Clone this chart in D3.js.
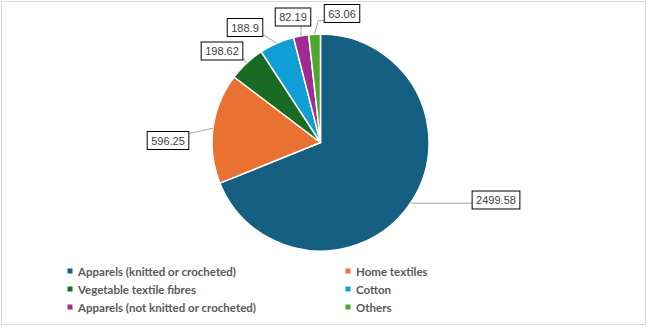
<!DOCTYPE html>
<html>
<head>
<meta charset="utf-8">
<script src="https://cdn.jsdelivr.net/npm/d3@7/dist/d3.min.js"></script>
<style>
  html, body { margin: 0; padding: 0; background: #fff; }
  svg { display: block; }
</style>
</head>
<body>
<svg id="chart" width="651" height="330"></svg>
<script>
// Export categories and their values
const categories = [
  "Apparels (knitted or crocheted)",
  "Home textiles",
  "Vegetable textile fibres",
  "Cotton",
  "Apparels (not knitted or crocheted)",
  "Others"
];
const values = [2499.58, 596.25, 198.62, 188.9, 82.19, 63.06];
const valueLabels = ["2499.58", "596.25", "198.62", "188.9", "82.19", "63.06"];
const colors = ["#156082", "#E97132", "#196B24", "#0F9ED5", "#A02B93", "#4EA72E"];

// Callout box centres (layout only)
const labelPos = [
  [496, 200], [168, 140.5], [222, 51], [245, 27.5], [293, 17], [342, 13.5]
];

const W = 651, H = 330;
const cx = 320.5, cy = 142.5, R = 108.5;

const svg = d3.select("#chart");

// chart area border
svg.append("rect")
  .attr("x", 1.5).attr("y", 1.5)
  .attr("width", 644).attr("height", 323)
  .attr("fill", "#fff").attr("stroke", "#d9d9d9").attr("stroke-width", 1);

const data = categories.map((c, i) => ({ name: c, value: values[i], label: valueLabels[i], color: colors[i], pos: labelPos[i] }));

const pie = d3.pie().value(d => d.value).sort(null);
const arcs = pie(data);
const arc = d3.arc().innerRadius(0).outerRadius(R);

const g = svg.append("g").attr("transform", `translate(${cx},${cy})`);

g.selectAll("path.slice")
  .data(arcs)
  .join("path")
  .attr("class", "slice")
  .attr("d", arc)
  .attr("fill", d => d.data.color)
  .attr("stroke", "#fff")
  .attr("stroke-width", 1.5)
  .attr("stroke-linejoin", "round");

// data labels with leader lines
const labelFont = "11px 'Liberation Sans', Arial, sans-serif";
const lg = svg.append("g");

arcs.forEach(d => {
  const mid = (d.startAngle + d.endAngle) / 2;
  const ax = cx + R * Math.sin(mid);
  const ay = cy - R * Math.cos(mid);
  const [lx, ly] = d.data.pos;

  const t = lg.append("text")
    .attr("x", lx).attr("y", ly)
    .attr("text-anchor", "middle")
    .attr("dominant-baseline", "central")
    .style("font", labelFont)
    .attr("fill", "#404040")
    .text(d.data.label);
  const bb = t.node().getBBox();
  const pad = 4;
  const bx = lx - bb.width / 2 - pad, bw = bb.width + pad * 2;
  const by = ly - 9, bh = 18;

  // leader line: from arc edge to nearest box edge
  let ex, ey;
  if (ax > bx + bw) { ex = bx + bw; ey = Math.max(by + 2, Math.min(by + bh - 2, ay)); }
  else if (ax < bx) { ex = bx; ey = Math.max(by + 2, Math.min(by + bh - 2, ay)); }
  else { ex = ax; ey = by + bh; }
  const dist = Math.hypot(ex - ax, ey - ay);
  if (dist > 6) {
    let pts;
    if (Math.abs(ey - ay) > 10 && Math.abs(ex - ax) < 20 && ax < cx + 5 && ax > cx - 60 && ex !== ax) {
      // short horizontal tick then down to the slice
      const kx = ex + (ax < ex ? -6 : 6);
      pts = [[ax, ay], [kx, ey], [ex, ey]];
    } else {
      pts = [[ax, ay], [ex, ey]];
    }
    lg.insert("path", "text")
      .attr("d", d3.line()(pts))
      .attr("fill", "none")
      .attr("stroke", "#a6a6a6")
      .attr("stroke-width", 1);
  }
  lg.insert("rect", "text")
    .attr("x", bx).attr("y", by)
    .attr("width", bw).attr("height", bh)
    .attr("fill", "#fff")
    .attr("stroke", "#000")
    .attr("stroke-width", 1);
});

// legend: two columns, three rows
const legendCols = [70, 348];
const legendRows = [271, 289, 307];
const legend = svg.append("g");
data.forEach((d, i) => {
  const x = legendCols[i % 2];
  const y = legendRows[Math.floor(i / 2)];
  legend.append("rect")
    .attr("x", x - 2.5).attr("y", y - 2.5)
    .attr("width", 5).attr("height", 5)
    .attr("fill", d.color);
  legend.append("text")
    .attr("x", x + 8).attr("y", y)
    .attr("dominant-baseline", "central")
    .style("font", "700 11.5px Lato, sans-serif")
    .attr("fill", "#595959")
    .text(d.name);
});
</script>
</body>
</html>
